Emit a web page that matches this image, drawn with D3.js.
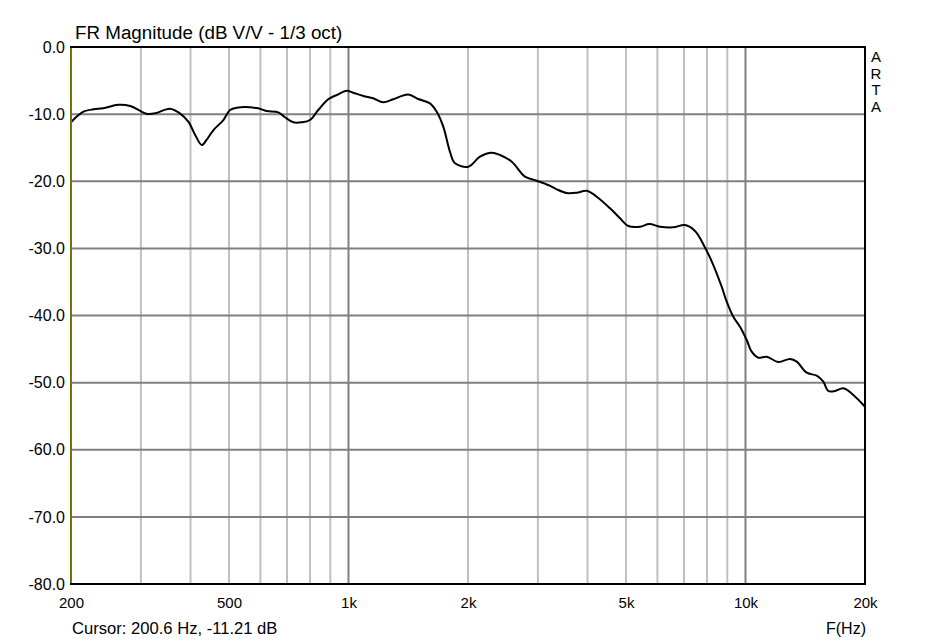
<!DOCTYPE html>
<html>
<head>
<meta charset="utf-8">
<script src="https://cdn.jsdelivr.net/npm/d3@7"></script>
<style>
  html, body { margin: 0; padding: 0; background: #fff; }
  svg { display: block; }
  text { font-family: "Liberation Sans", Arial, sans-serif; fill: #000; }
</style>
</head>
<body>
<svg id="chart" width="937" height="641"></svg>
<script>
// ---- data ----
const freqHz = [200, 215, 228, 241, 263, 282, 298, 310, 326, 355, 376, 395, 411, 427, 439, 457, 484, 503, 523, 587,
  622, 666, 692, 726, 762, 800, 839, 889, 934, 990, 1028, 1090, 1154, 1223, 1296, 1414, 1499, 1604, 1668, 1733,
  1802, 1855, 2004, 2144, 2295, 2408, 2578, 2784, 2979, 3186, 3345, 3545, 3757, 3981, 4219, 4558, 4830, 5068,
  5424, 5724, 6090, 6577, 7042, 7462, 7907, 8298, 8710, 8968, 9318, 9686, 10070, 10366, 10770, 11310, 12096,
  12946, 13461, 14264, 15114, 15704, 16166, 16806, 17636, 18686, 20000];
const magnitudeDb = [-11.2, -9.64, -9.28, -9.13, -8.6, -8.79, -9.49, -9.94, -9.88, -9.19, -9.88, -11.13, -13.11, -14.6, -13.85, -12.37, -10.88, -9.39, -9.04, -9.09,
  -9.53, -9.73, -10.47, -11.22, -11.22, -10.88, -9.39, -7.79, -7.15, -6.51, -6.81, -7.3, -7.64, -8.24, -7.79, -7.08, -7.75, -8.39, -9.64, -11.87,
  -15.64, -17.33, -17.83, -16.34, -15.75, -16.09, -17.09, -19.32, -19.92, -20.56, -21.2, -21.75, -21.71, -21.41, -22.3, -24.03, -25.52, -26.67,
  -26.77, -26.37, -26.77, -26.86, -26.52, -27.41, -29.87, -32.48, -35.71, -37.94, -40.18, -41.67, -43.65, -45.39, -46.29, -46.14, -46.93,
  -46.48, -46.88, -48.52, -48.97, -49.86, -51.25, -51.25, -50.85, -51.84, -53.59];

const xTickValues = [200, 500, 1000, 2000, 5000, 10000, 20000];
const xTickLabels = ["200", "500", "1k", "2k", "5k", "10k", "20k"];
const xMinorGrid = [300, 400, 500, 600, 700, 800, 900, 2000, 3000, 4000, 5000, 6000, 7000, 8000, 9000];
const xMajorGrid = [1000, 10000];
const yTickValues = [0, -10, -20, -30, -40, -50, -60, -70, -80];
const titleText = "FR Magnitude (dB V/V - 1/3 oct)";
const cursorText = "Cursor: 200.6 Hz, -11.21 dB";
const cursorFreq = 200.6;
const xAxisName = "F(Hz)";
const brandLetters = ["A", "R", "T", "A"];

// ---- layout ----
const L = 71, R = 865, T = 47, B = 584;
const svg = d3.select("#chart");

const x = d3.scaleLog().domain([200, 20000]).range([L, R]);
const y = d3.scaleLinear().domain([-80, 0]).range([B, T]);

// grid
const g = svg.append("g");
g.selectAll("line.minor").data(xMinorGrid).enter().append("line")
  .attr("x1", d => x(d)).attr("x2", d => x(d)).attr("y1", T).attr("y2", B)
  .attr("stroke", "#c0c0c0").attr("stroke-width", 2);
g.selectAll("line.hgrid").data(yTickValues.slice(1, -1)).enter().append("line")
  .attr("x1", L).attr("x2", R).attr("y1", d => y(d)).attr("y2", d => y(d))
  .attr("stroke", "#808080").attr("stroke-width", 2);
g.selectAll("line.major").data(xMajorGrid).enter().append("line")
  .attr("x1", d => x(d)).attr("x2", d => x(d)).attr("y1", T).attr("y2", B)
  .attr("stroke", "#808080").attr("stroke-width", 2);

// curve
const pts = freqHz.map((f, i) => [f, magnitudeDb[i]]);
const line = d3.line().x(d => x(d[0])).y(d => y(d[1])).curve(d3.curveCatmullRom.alpha(0.5));
svg.append("path").datum(pts).attr("d", line)
  .attr("fill", "none").attr("stroke", "#000").attr("stroke-width", 2).attr("stroke-linejoin", "round");

// frame
svg.append("rect").attr("x", L).attr("y", T).attr("width", R - L).attr("height", B - T)
  .attr("fill", "none").attr("stroke", "#000").attr("stroke-width", 2);
// cursor line
svg.append("line").attr("x1", x(cursorFreq) - 0.5).attr("x2", x(cursorFreq) - 0.5)
  .attr("y1", T + 1).attr("y2", B - 1).attr("stroke", "#e8e800").attr("stroke-width", 1);

// y axis labels
const yAxis = d3.axisLeft(y).tickValues(yTickValues).tickSize(0).tickPadding(6)
  .tickFormat(d => d3.format(".1f")(d).replace("−", "-"));
const ya = svg.append("g").attr("transform", `translate(${L},0)`).call(yAxis);
ya.select(".domain").remove();
ya.selectAll("text").attr("font-size", 16).attr("font-family", "Liberation Sans, Arial, sans-serif").attr("fill", "#000");

// x axis labels
const xAxis = d3.axisBottom(x).tickValues(xTickValues).tickSize(0).tickPadding(13)
  .tickFormat((d, i) => xTickLabels[i]);
const xa = svg.append("g").attr("transform", `translate(0,${B})`).call(xAxis);
xa.select(".domain").remove();
xa.selectAll("text").attr("font-size", 15).attr("font-family", "Liberation Sans, Arial, sans-serif").attr("fill", "#000");

// title and footers
svg.append("text").attr("x", 75).attr("y", 39).attr("font-size", 18.8).text(titleText);
svg.append("text").attr("x", 72).attr("y", 634).attr("font-size", 16.6).text(cursorText);
svg.append("text").attr("x", 866).attr("y", 634).attr("font-size", 16).attr("text-anchor", "end").text(xAxisName);
svg.selectAll("text.brand").data(brandLetters).enter().append("text")
  .attr("x", 876).attr("y", (d, i) => 62 + i * 16.5).attr("font-size", 15).attr("text-anchor", "middle").text(d => d);
</script>
</body>
</html>
